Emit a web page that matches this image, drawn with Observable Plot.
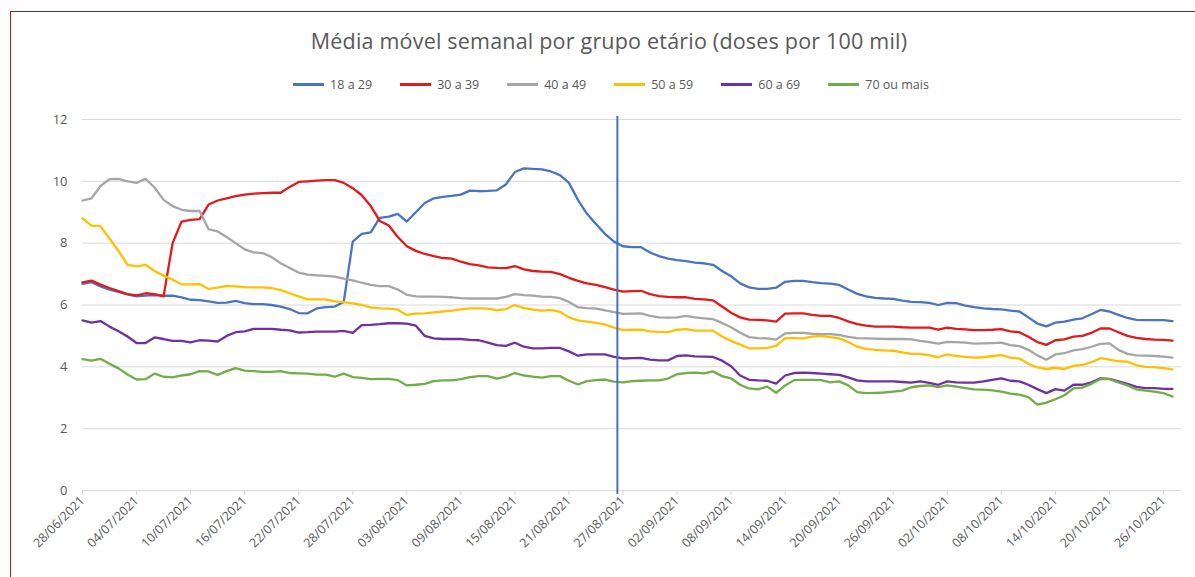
<!DOCTYPE html>
<html>
<head>
<meta charset="utf-8">
<script src="https://cdn.jsdelivr.net/npm/d3@7"></script>
<script src="https://cdn.jsdelivr.net/npm/@observablehq/plot@0.6"></script>
<style>
html,body{margin:0;padding:0;background:#fff;width:1195px;height:577px;overflow:hidden;font-family:"Open Sans",sans-serif;}
#frame{position:absolute;left:10px;top:11px;width:1220px;height:620px;border-left:1.5px solid #9b2226;border-top:1.5px solid #9b2226;box-sizing:border-box;}
#title{position:absolute;left:0;top:26px;width:1218px;text-align:center;font-size:21.5px;letter-spacing:0.2px;color:#595959;white-space:nowrap;}
#legend{position:absolute;top:76px;left:0;width:1222px;display:flex;justify-content:center;gap:28px;font-size:12.5px;color:#595959;}
#legend .item{display:flex;align-items:center;}
#legend .sw{display:inline-block;width:31px;height:2.5px;margin-right:6px;}
#chart{position:absolute;left:0;top:100px;}
</style>
</head>
<body>
<div id="frame"></div>
<div id="title"></div>
<div id="legend"></div>
<div id="chart"></div>
<script>
const titleText = "Média móvel semanal por grupo etário (doses por 100 mil)";
const groupNames = ["18 a 29", "30 a 39", "40 a 49", "50 a 59", "60 a 69", "70 ou mais"];
const groupColors = ["#4a74bf", "#e3191c", "#a5a5a5", "#ffc000", "#7030a0", "#70ad47"];

const startDay = "2021-06-28";
const endDay = "2021-10-28";
const tickStepDays = 6;
const yTicks = [0, 2, 4, 6, 8, 10, 12];

const s18_29 = [
 6.68,6.74,6.60,6.50,6.42,6.34,6.28,6.30,6.32,6.30,
 6.30,6.25,6.17,6.16,6.12,6.07,6.08,6.13,6.06,6.03,
 6.03,6.00,5.95,5.87,5.74,5.73,5.89,5.93,5.95,6.10,
 8.05,8.30,8.35,8.82,8.86,8.95,8.70,9.00,9.30,9.45,
 9.50,9.53,9.57,9.70,9.68,9.69,9.71,9.90,10.30,10.42,
 10.40,10.39,10.32,10.20,9.95,9.40,8.95,8.62,8.30,8.05,
 7.90,7.87,7.87,7.70,7.58,7.50,7.45,7.42,7.37,7.35,
 7.30,7.10,6.93,6.70,6.57,6.52,6.52,6.56,6.75,6.78,
 6.78,6.74,6.71,6.69,6.65,6.50,6.36,6.28,6.23,6.21,
 6.20,6.14,6.10,6.09,6.07,6.00,6.07,6.06,5.98,5.93,
 5.89,5.87,5.86,5.82,5.79,5.60,5.40,5.31,5.43,5.46,
 5.53,5.57,5.70,5.84,5.79,5.68,5.58,5.52,5.51,5.51,
 5.51,5.48
];
const s30_39 = [
 6.73,6.79,6.66,6.55,6.45,6.35,6.31,6.38,6.35,6.28,
 8.00,8.70,8.75,8.78,9.25,9.38,9.45,9.52,9.57,9.60,
 9.62,9.63,9.63,9.82,9.98,10.00,10.02,10.04,10.04,9.95,
 9.78,9.55,9.20,8.72,8.57,8.20,7.90,7.75,7.65,7.58,
 7.52,7.50,7.40,7.32,7.28,7.22,7.20,7.19,7.26,7.15,
 7.10,7.08,7.07,7.00,6.88,6.78,6.70,6.65,6.58,6.50,
 6.43,6.45,6.46,6.35,6.29,6.26,6.25,6.25,6.20,6.18,
 6.15,5.95,5.75,5.60,5.53,5.52,5.50,5.46,5.72,5.73,
 5.73,5.68,5.65,5.65,5.58,5.47,5.38,5.33,5.30,5.30,
 5.30,5.28,5.27,5.27,5.27,5.20,5.27,5.23,5.21,5.19,
 5.19,5.20,5.22,5.15,5.12,4.97,4.80,4.71,4.86,4.89,
 4.98,5.00,5.10,5.24,5.24,5.12,5.00,4.94,4.90,4.88,
 4.87,4.85
];
const s40_49 = [
 9.38,9.45,9.85,10.07,10.08,10.00,9.95,10.08,9.80,9.40,
 9.20,9.08,9.04,9.04,8.45,8.38,8.20,8.00,7.80,7.70,
 7.68,7.55,7.35,7.20,7.05,6.98,6.96,6.94,6.92,6.85,
 6.80,6.72,6.65,6.61,6.61,6.50,6.33,6.28,6.27,6.27,
 6.26,6.25,6.22,6.21,6.21,6.21,6.21,6.26,6.35,6.32,
 6.30,6.27,6.26,6.22,6.10,5.93,5.90,5.88,5.83,5.77,
 5.71,5.72,5.73,5.65,5.60,5.59,5.60,5.65,5.60,5.57,
 5.54,5.42,5.28,5.10,4.96,4.93,4.92,4.88,5.08,5.10,
 5.10,5.07,5.06,5.06,5.03,4.97,4.93,4.92,4.91,4.90,
 4.90,4.90,4.89,4.84,4.80,4.75,4.81,4.80,4.78,4.75,
 4.76,4.77,4.78,4.70,4.67,4.55,4.37,4.23,4.40,4.44,
 4.53,4.57,4.65,4.74,4.76,4.55,4.42,4.37,4.36,4.35,
 4.33,4.30
];
const s50_59 = [
 8.80,8.57,8.55,8.15,7.75,7.30,7.25,7.30,7.10,6.95,
 6.82,6.67,6.67,6.68,6.52,6.56,6.62,6.60,6.58,6.57,
 6.57,6.55,6.48,6.38,6.28,6.18,6.18,6.18,6.12,6.09,
 6.05,6.00,5.92,5.89,5.88,5.85,5.68,5.72,5.73,5.76,
 5.79,5.82,5.86,5.89,5.89,5.88,5.83,5.87,6.00,5.90,
 5.85,5.82,5.84,5.78,5.60,5.50,5.46,5.42,5.37,5.27,
 5.19,5.20,5.20,5.15,5.13,5.12,5.20,5.22,5.17,5.17,
 5.17,4.98,4.84,4.72,4.60,4.60,4.61,4.68,4.93,4.93,
 4.92,4.98,5.00,4.96,4.92,4.80,4.65,4.58,4.55,4.53,
 4.52,4.47,4.42,4.42,4.37,4.31,4.40,4.35,4.32,4.30,
 4.31,4.35,4.38,4.30,4.27,4.10,3.98,3.93,3.97,3.93,
 4.03,4.06,4.15,4.28,4.23,4.18,4.17,4.05,4.00,3.99,
 3.96,3.92
];
const s60_69 = [
 5.50,5.43,5.48,5.30,5.15,4.98,4.77,4.77,4.95,4.90,
 4.84,4.84,4.79,4.86,4.85,4.82,5.00,5.12,5.15,5.23,
 5.23,5.23,5.20,5.18,5.11,5.12,5.14,5.14,5.14,5.16,
 5.10,5.35,5.36,5.38,5.41,5.41,5.40,5.33,5.00,4.92,
 4.90,4.90,4.90,4.87,4.86,4.78,4.70,4.68,4.78,4.65,
 4.60,4.60,4.61,4.61,4.50,4.36,4.40,4.40,4.40,4.32,
 4.27,4.28,4.29,4.23,4.21,4.21,4.35,4.37,4.34,4.33,
 4.32,4.20,4.02,3.72,3.58,3.56,3.55,3.46,3.72,3.80,
 3.81,3.80,3.78,3.76,3.74,3.66,3.56,3.53,3.53,3.53,
 3.53,3.51,3.49,3.53,3.48,3.42,3.53,3.50,3.49,3.49,
 3.53,3.58,3.63,3.55,3.53,3.42,3.28,3.15,3.28,3.23,
 3.42,3.42,3.50,3.63,3.61,3.53,3.45,3.35,3.31,3.31,
 3.29,3.29
];
const s70_mais = [
 4.25,4.20,4.26,4.10,3.95,3.75,3.59,3.60,3.78,3.68,
 3.66,3.72,3.76,3.86,3.85,3.74,3.86,3.96,3.88,3.86,
 3.84,3.84,3.86,3.80,3.79,3.78,3.75,3.75,3.68,3.78,
 3.67,3.64,3.60,3.61,3.61,3.57,3.40,3.42,3.45,3.54,
 3.56,3.56,3.60,3.67,3.70,3.70,3.62,3.68,3.80,3.72,
 3.68,3.65,3.70,3.70,3.55,3.43,3.54,3.57,3.59,3.52,
 3.50,3.54,3.55,3.56,3.56,3.62,3.76,3.80,3.81,3.79,
 3.85,3.70,3.63,3.42,3.30,3.27,3.36,3.16,3.40,3.57,
 3.58,3.58,3.57,3.50,3.53,3.40,3.18,3.15,3.16,3.17,
 3.20,3.23,3.34,3.38,3.40,3.34,3.40,3.36,3.31,3.27,
 3.26,3.24,3.20,3.13,3.10,3.02,2.78,2.84,2.95,3.08,
 3.30,3.33,3.45,3.61,3.60,3.50,3.40,3.27,3.23,3.20,
 3.15,3.04
];
const seriesValues = [s18_29, s30_39, s40_49, s50_59, s60_69, s70_mais];

// vertical reference line (annotation)
const markerDate = "2021-08-26T09:00:00Z";
const markerRange = [-0.13, 12.1];

const parse = s => new Date(s + (s.length === 10 ? "T00:00:00Z" : ""));
const t0 = parse(startDay), t1 = parse(endDay);
const dates = d3.utcDay.range(t0, t1);
const tickDates = d3.utcDay.range(t0, t1, tickStepDays);

const rows = [];
groupNames.forEach((g, k) => {
  seriesValues[k].forEach((v, i) => rows.push({date: dates[i], value: v, group: g}));
});

document.getElementById("title").textContent = titleText;
const legend = document.getElementById("legend");
groupNames.forEach((g, k) => {
  const it = document.createElement("div"); it.className = "item";
  const sw = document.createElement("span"); sw.className = "sw"; sw.style.background = groupColors[k];
  const tx = document.createElement("span"); tx.textContent = g;
  it.appendChild(sw); it.appendChild(tx); legend.appendChild(it);
});

const fmt = d3.utcFormat("%d/%m/%Y");
const chart = Plot.plot({
  width: 1195,
  height: 477,
  marginLeft: 82,
  marginRight: 14,
  marginTop: 19,
  marginBottom: 87,
  style: {fontFamily: "'Open Sans', sans-serif", fontSize: "12.5px", color: "#595959", background: "transparent", overflow: "visible"},
  x: {type: "utc", domain: [t0, t1]},
  y: {domain: [0, 12]},
  color: {domain: groupNames, range: groupColors},
  marks: [
    Plot.gridY(yTicks, {stroke: "#d9d9d9", strokeOpacity: 1, strokeWidth: 1}),
    Plot.ruleY([0], {stroke: "#d9d9d9", strokeWidth: 1}),
    Plot.axisY(yTicks, {tickSize: 0, tickPadding: 15, fill: "#595959", fontSize: 13, label: null}),
    Plot.axisX(tickDates, {tickFormat: fmt, tickRotate: -45, tickSize: 5, tickPadding: 3, stroke: "#d9d9d9", fill: "#595959", fontSize: 12.5, label: null}),
    Plot.lineY(rows, {x: "date", y: "value", z: "group", stroke: "group", strokeWidth: 2.3, strokeLinejoin: "round"}),
    Plot.ruleX([parse(markerDate)], {y1: markerRange[0], y2: markerRange[1], stroke: "#4472c4", strokeWidth: 2})
  ]
});
document.getElementById("chart").appendChild(chart);
</script>
</body>
</html>
